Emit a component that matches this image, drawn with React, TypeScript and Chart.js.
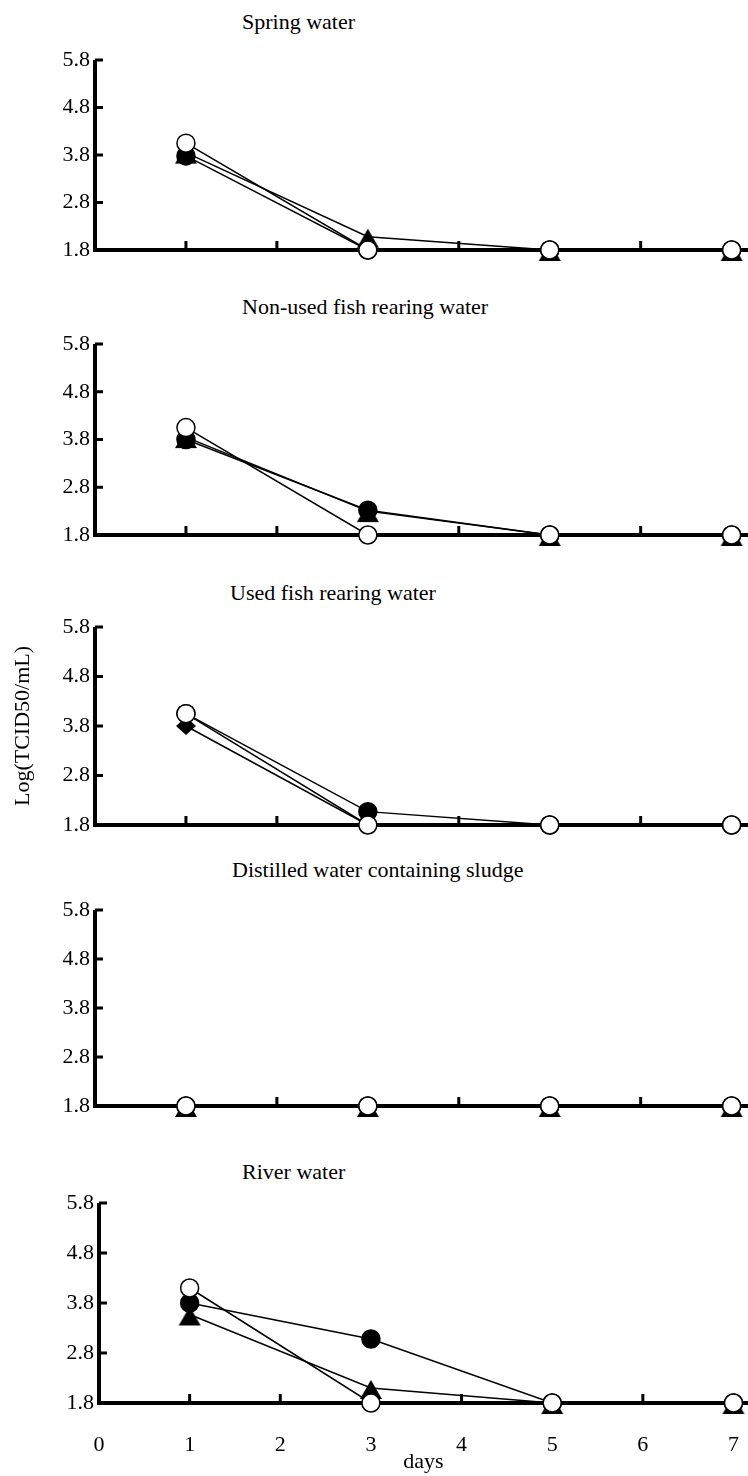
import React, { useEffect, useRef } from 'react';
import { Chart, registerables } from 'chart.js';

Chart.register(...registerables);

// ---------- data ----------
const DAYS = [1, 3, 5, 7];
const X_TICKS = [0, 1, 2, 3, 4, 5, 6, 7];
const Y_TICKS = [1.8, 2.8, 3.8, 4.8, 5.8];
const Y_MIN = 1.8;
const Y_MAX = 5.8;
const X_LABEL = 'days';
const Y_LABEL = 'Log(TCID50/mL)';
const TITLES = [
  'Spring water',
  'Non-used fish rearing water',
  'Used fish rearing water',
  'Distilled water containing sludge',
  'River water',
];

const SPRING_OPEN = [4.05, 1.8, 1.8, 1.8];
const SPRING_FILLED = [3.78, 1.8, 1.8, 1.8];
const SPRING_TRIANGLE = [3.85, 2.08, 1.8, 1.8];

const NONUSED_OPEN = [4.05, 1.8, 1.8, 1.8];
const NONUSED_FILLED = [3.8, 2.32, 1.8, 1.8];
const NONUSED_TRIANGLE = [3.85, 2.3, 1.8, 1.8];

const USED_OPEN = [4.05, 1.8, 1.8, 1.8];
const USED_FILLED = [4.05, 2.07, 1.8, 1.8];
const USED_DIAMOND = [3.8, 1.8, 1.8, 1.8];

const SLUDGE_OPEN = [1.8, 1.8, 1.8, 1.8];
const SLUDGE_FILLED = [1.8, 1.8, 1.8, 1.8];
const SLUDGE_TRIANGLE = [1.8, 1.8, 1.8, 1.8];

const RIVER_OPEN = [4.1, 1.8, 1.8, 1.8];
const RIVER_FILLED = [3.8, 3.08, 1.8, 1.8];
const RIVER_TRIANGLE = [3.57, 2.1, 1.8, 1.8];

type Marker = 'open' | 'filled' | 'triangle' | 'diamond';

const PANEL_SERIES: { marker: Marker; values: number[] }[][] = [
  [
    { marker: 'open', values: SPRING_OPEN },
    { marker: 'filled', values: SPRING_FILLED },
    { marker: 'triangle', values: SPRING_TRIANGLE },
  ],
  [
    { marker: 'open', values: NONUSED_OPEN },
    { marker: 'filled', values: NONUSED_FILLED },
    { marker: 'triangle', values: NONUSED_TRIANGLE },
  ],
  [
    { marker: 'open', values: USED_OPEN },
    { marker: 'filled', values: USED_FILLED },
    { marker: 'diamond', values: USED_DIAMOND },
  ],
  [
    { marker: 'open', values: SLUDGE_OPEN },
    { marker: 'filled', values: SLUDGE_FILLED },
    { marker: 'triangle', values: SLUDGE_TRIANGLE },
  ],
  [
    { marker: 'open', values: RIVER_OPEN },
    { marker: 'filled', values: RIVER_FILLED },
    { marker: 'triangle', values: RIVER_TRIANGLE },
  ],
];

// ---------- layout (positions only) ----------
const PANEL_LAYOUT = [
  { top: 45, height: 220, axisLeft: 95, xMax: 7.18, titleX: 242, titleY: 22, showX: false, showYLabel: false },
  { top: 329, height: 221, axisLeft: 95, xMax: 7.18, titleX: 242, titleY: 307, showX: false, showYLabel: false },
  { top: 612, height: 228, axisLeft: 95, xMax: 7.18, titleX: 230, titleY: 593, showX: false, showYLabel: true },
  { top: 895, height: 226, axisLeft: 95, xMax: 7.18, titleX: 232, titleY: 870, showX: false, showYLabel: false },
  { top: 1188, height: 288, axisLeft: 99, xMax: 7.16, titleX: 242, titleY: 1172, showX: true, showYLabel: false },
];

const FONT_FAMILY = '"Liberation Serif", "Times New Roman", serif';
const FONT = { family: FONT_FAMILY, size: 22 };

function makeTriangle(): HTMLCanvasElement {
  const c = document.createElement('canvas');
  c.width = 24;
  c.height = 24;
  const g = c.getContext('2d')!;
  g.fillStyle = '#000';
  g.beginPath();
  g.moveTo(12, 4);
  g.lineTo(23, 23);
  g.lineTo(1, 23);
  g.closePath();
  g.fill();
  return c;
}

function makeDiamond(): HTMLCanvasElement {
  const c = document.createElement('canvas');
  c.width = 22;
  c.height = 22;
  const g = c.getContext('2d')!;
  g.fillStyle = '#000';
  g.beginPath();
  g.moveTo(11, 2);
  g.lineTo(21, 11);
  g.lineTo(11, 20);
  g.lineTo(1, 11);
  g.closePath();
  g.fill();
  return c;
}

const axesPlugin = {
  id: 'inwardAxes',
  beforeDatasetsDraw(chart: any) {
    const { ctx, chartArea, scales } = chart;
    const { left, right, bottom } = chartArea;
    const x = scales.x;
    const y = scales.y;
    const top = y.getPixelForValue(Y_MAX);
    ctx.save();
    ctx.strokeStyle = '#000';
    ctx.lineCap = 'butt';
    ctx.lineWidth = 4;
    ctx.beginPath();
    ctx.moveTo(left, top);
    ctx.lineTo(left, bottom);
    ctx.lineTo(right, bottom);
    ctx.stroke();
    ctx.lineWidth = 3;
    ctx.beginPath();
    Y_TICKS.forEach((v) => {
      if (v === Y_MIN) return;
      const py = y.getPixelForValue(v);
      ctx.moveTo(left, py);
      ctx.lineTo(left + 8, py);
    });
    X_TICKS.forEach((v) => {
      if (v === 0) return;
      const px = x.getPixelForValue(v);
      ctx.moveTo(px, bottom);
      ctx.lineTo(px, bottom - 9);
    });
    ctx.stroke();
    ctx.restore();
  },
};

function Panel({ index }: { index: number }) {
  const ref = useRef<HTMLCanvasElement | null>(null);
  const lay = PANEL_LAYOUT[index];

  useEffect(() => {
    if (!ref.current) return;
    const tri = makeTriangle();
    const dia = makeDiamond();
    const datasets = PANEL_SERIES[index].map((s) => {
      let pointStyle: any = 'circle';
      let bg = '#000';
      if (s.marker === 'open') bg = '#fff';
      if (s.marker === 'triangle') pointStyle = tri;
      if (s.marker === 'diamond') pointStyle = dia;
      return {
        data: DAYS.map((d, i) => ({ x: d, y: s.values[i] })),
        borderColor: '#000',
        borderWidth: 1.5,
        backgroundColor: bg,
        pointBackgroundColor: bg,
        pointBorderColor: '#000',
        pointBorderWidth: 1.5,
        pointRadius: 9,
        pointStyle,
        showLine: true,
        fill: false,
        tension: 0,
        clip: false as any,
      };
    });

    const chart = new Chart(ref.current, {
      type: 'scatter',
      data: { datasets },
      options: {
        animation: false,
        responsive: false,
        maintainAspectRatio: false,
        events: [],
        layout: { autoPadding: false, padding: { top: 15, bottom: lay.showX ? 0 : 15, left: 0, right: 0 } },
        plugins: {
          legend: { display: false },
          tooltip: { enabled: false },
          title: { display: false },
        },
        scales: {
          x: {
            type: 'linear',
            min: 0,
            max: lay.xMax,
            display: lay.showX,
            afterBuildTicks: (s: any) => {
              s.ticks = X_TICKS.map((v) => ({ value: v }));
            },
            afterFit: (s: any) => {
              s.height = lay.showX ? 73 : 0;
              s.paddingLeft = 0;
              s.paddingRight = 0;
            },
            grid: { display: false, drawTicks: false },
            border: { display: false },
            ticks: {
              padding: 29,
              color: '#000',
              font: FONT,
              maxRotation: 0,
              autoSkip: false,
              callback: (v: any) => String(v),
            },
            title: {
              display: true,
              text: X_LABEL,
              color: '#000',
              font: FONT,
              padding: { top: 0, bottom: 1 },
            },
          },
          y: {
            type: 'linear',
            min: Y_MIN,
            max: Y_MAX,
            afterBuildTicks: (s: any) => {
              s.ticks = Y_TICKS.map((v) => ({ value: v }));
            },
            afterFit: (s: any) => {
              s.width = lay.axisLeft;
              s.paddingTop = 0;
              s.paddingBottom = 0;
            },
            grid: { display: false, drawTicks: false },
            border: { display: false },
            ticks: {
              padding: 5,
              color: '#000',
              font: FONT,
              autoSkip: false,
              callback: (v: any) => Number(v).toFixed(1),
            },
            title: {
              display: lay.showYLabel,
              text: Y_LABEL,
              color: '#000',
              font: FONT,
              padding: { top: 10, bottom: 0 },
            },
          },
        },
      } as any,
      plugins: [axesPlugin],
    });
    return () => chart.destroy();
  }, [index]);

  return (
    <>
      <div
        style={{
          position: 'absolute',
          left: lay.titleX,
          top: lay.titleY - 13,
          height: 26,
          lineHeight: '26px',
          fontFamily: FONT_FAMILY,
          fontSize: 22,
          color: '#000',
          whiteSpace: 'nowrap',
        }}
      >
        {TITLES[index]}
      </div>
      <div style={{ position: 'absolute', left: 0, top: lay.top, width: 748, height: lay.height }}>
        <canvas ref={ref} width={748} height={lay.height} style={{ display: 'block' }} />
      </div>
    </>
  );
}

export default function App() {
  return (
    <div style={{ position: 'absolute', left: 0, top: 0, width: 748, height: 1476, background: '#fff', overflow: 'hidden' }}>
      {TITLES.map((_, i) => (
        <Panel key={i} index={i} />
      ))}
    </div>
  );
}
